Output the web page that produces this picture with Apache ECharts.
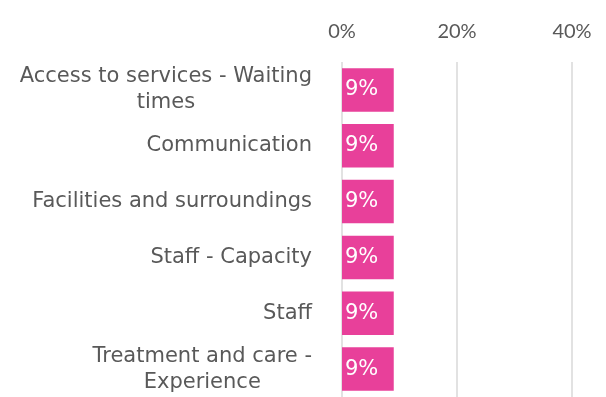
<!DOCTYPE html>
<html>
<head>
<meta charset="utf-8">
<script src="https://cdn.jsdelivr.net/npm/echarts@6/dist/echarts.min.js"></script>
<style>
  html, body { margin: 0; padding: 0; background: #ffffff; }
  #chart { width: 606px; height: 397px; }
</style>
</head>
<body>
<div id="chart"></div>
<script>
// Feedback themes and the share of comments in each (percent)
const categories = [
  'Access to services - Waiting\ntimes',
  'Communication',
  'Facilities and surroundings',
  'Staff - Capacity',
  'Staff',
  'Treatment and care -\nExperience'
];
const shares = [9, 9, 9, 9, 9, 9];
const axisTicks = [0, 20, 40];

const FONT = '"DejaVu Sans", sans-serif';
const TICK_FONT = 'Lato, "DejaVu Sans", sans-serif';
const TEXT = '#595959';
const PINK = '#E8409A';

const chart = echarts.init(document.getElementById('chart'), null, { renderer: 'canvas' });

chart.setOption({
  animation: false,
  grid: { left: 342, right: 34, top: 62, height: 338 },
  xAxis: {
    type: 'value',
    position: 'top',
    min: axisTicks[0],
    max: axisTicks[axisTicks.length - 1],
    interval: axisTicks[1] - axisTicks[0],
    axisLine: { show: false },
    axisTick: { show: false },
    splitLine: { show: true, lineStyle: { color: '#D9D9D9', width: 1.5 } },
    axisLabel: {
      margin: 20,
      color: TEXT,
      fontFamily: TICK_FONT,
      fontSize: 20,
      formatter: '{value}%'
    }
  },
  yAxis: {
    type: 'category',
    inverse: true,
    data: categories,
    axisLine: { show: false },
    axisTick: { show: false },
    axisLabel: {
      margin: 30,
      color: TEXT,
      fontFamily: FONT,
      fontSize: 21,
      lineHeight: 26,
      formatter: function (v) {
        return v.split('\n').map(function (s) { return '{c|' + s + '}'; }).join('\n');
      },
      rich: {
        c: { align: 'center', color: TEXT, fontFamily: FONT, fontSize: 21, lineHeight: 26 }
      }
    }
  },
  series: [{
    type: 'bar',
    data: shares,
    barCategoryGap: '22%',
    itemStyle: { color: PINK },
    label: {
      show: true,
      position: 'insideLeft',
      distance: 3,
      color: '#ffffff',
      fontFamily: FONT,
      fontSize: 21,
      formatter: '{c}%'
    }
  }]
});
</script>
</body>
</html>
